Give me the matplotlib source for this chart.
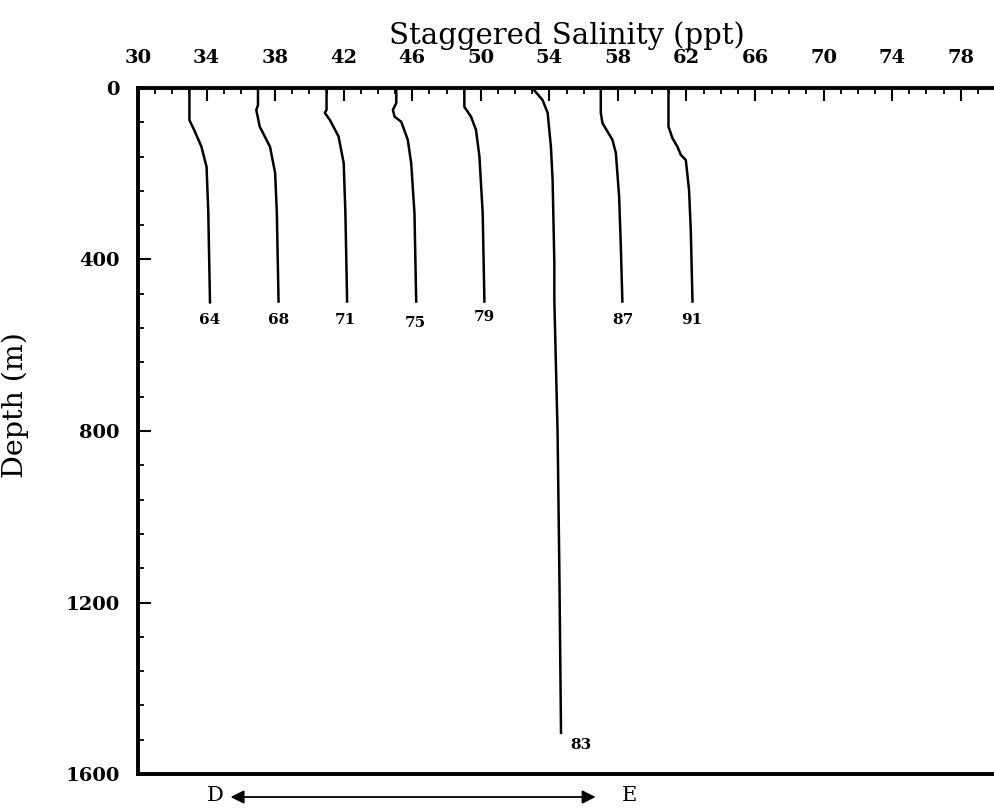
import matplotlib
matplotlib.use("Agg")
import matplotlib.pyplot as plt
from matplotlib.ticker import MultipleLocator
import matplotlib.transforms as mtransforms

# station profiles: staggered salinity (ppt) vs depth (m)
sal_64 = [33.0, 33.0, 33.3, 33.7, 34.0, 34.1, 34.2]
dep_64 = [0, 75, 100, 137, 184, 290, 500]

sal_68 = [37.0, 37.0, 36.9, 37.1, 37.7, 38.0, 38.1, 38.2]
dep_68 = [0, 40, 51, 90, 137, 198, 292, 498]

sal_71 = [41.0, 41.0, 40.9, 41.2, 41.7, 42.0, 42.1, 42.2]
dep_71 = [0, 51, 58, 75, 113, 175, 292, 498]

sal_75 = [45.07, 45.07, 44.87, 44.97, 45.36, 45.74, 45.94, 46.13, 46.23]
dep_75 = [0, 35, 51, 67, 79, 121, 176, 292, 498]

sal_79 = [49.04, 49.04, 49.43, 49.72, 49.92, 50.11, 50.21]
dep_79 = [0, 44, 67, 98, 160, 292, 498]

sal_83 = [53.0, 53.6, 53.9, 54.09, 54.19, 54.29, 54.29, 54.48, 54.58, 54.68]
dep_83 = [0, 28, 58, 137, 215, 408, 494, 805, 1117, 1504]

sal_87 = [57.0, 57.0, 57.1, 57.68, 57.88, 58.07, 58.17, 58.26]
dep_87 = [0, 58, 82, 121, 152, 253, 370, 498]

sal_91 = [60.95, 60.95, 61.18, 61.47, 61.67, 61.96, 62.15, 62.25, 62.35]
dep_91 = [0, 90, 117, 137, 156, 168, 238, 331, 498]

station_ids = ["64", "68", "71", "75", "79", "83", "87", "91"]
label_x = [34.2, 38.2, 42.1, 46.2, 50.2, 55.2, 58.3, 62.3]
label_y = [540, 540, 540, 548, 535, 1532, 540, 540]

xticks = [30, 34, 38, 42, 46, 50, 54, 58, 62, 66, 70, 74, 78]
yticks = [0, 400, 800, 1200, 1600]

profiles = [(sal_64, dep_64), (sal_68, dep_68), (sal_71, dep_71), (sal_75, dep_75),
            (sal_79, dep_79), (sal_83, dep_83), (sal_87, dep_87), (sal_91, dep_91)]

serif = "DejaVu Serif"

fig = plt.figure(figsize=(9.95, 8.10), dpi=100)
ax = fig.add_axes([0.1387, 0.0444, 0.8613, 0.847])

for (s, d) in profiles:
    ax.plot(s, d, color="black", lw=1.8)

for sid, lx, ly in zip(station_ids, label_x, label_y):
    ha = "left" if sid == "83" else "center"
    ax.text(lx, ly, sid, ha=ha, va="center", fontsize=11, fontweight="bold",
            family=serif)

ax.set_xlim(30, 80)
ax.set_ylim(1600, 0)

ax.xaxis.tick_top()
ax.xaxis.set_label_position("top")
ax.set_xticks(xticks)
ax.set_xticklabels([str(t) for t in xticks])
ax.xaxis.set_minor_locator(MultipleLocator(1))
ax.set_yticks(yticks)
ax.set_yticklabels([str(t) for t in yticks])
ax.yaxis.set_minor_locator(MultipleLocator(80))

ax.tick_params(axis="x", which="major", direction="in", length=9, width=1.5,
               pad=15, labelsize=14)
ax.tick_params(axis="x", which="minor", direction="in", length=4.5, width=1.3)
ax.tick_params(axis="y", which="major", direction="in", length=9, width=1.5,
               pad=13, labelsize=14)
ax.tick_params(axis="y", which="minor", direction="in", length=4, width=1.3)
for lab in ax.get_xticklabels() + ax.get_yticklabels():
    lab.set_family(serif)
    lab.set_fontweight("bold")

for side in ["top", "left", "bottom"]:
    ax.spines[side].set_linewidth(2.8)
ax.spines["right"].set_visible(False)

ax.set_xlabel("Staggered Salinity (ppt)", fontsize=21, family=serif, labelpad=4)
ax.set_ylabel("Depth (m)", fontsize=20.5, family=serif)
ax.yaxis.set_label_coords(-0.127, 0.538)

# D <-> E direction arrow under the axis
trans = mtransforms.blended_transform_factory(ax.transData, ax.transAxes)
ax.annotate("", xy=(35.4, -0.0335), xytext=(56.7, -0.0335), xycoords=trans,
            textcoords=trans,
            arrowprops=dict(arrowstyle="<|-|>", color="black", lw=1.3,
                            mutation_scale=20, shrinkA=0, shrinkB=0),
            annotation_clip=False)
ax.text(34.5, -0.032, "D", transform=trans, ha="center", va="center",
        fontsize=15, family=serif, clip_on=False)
ax.text(58.65, -0.032, "E", transform=trans, ha="center", va="center",
        fontsize=15, family=serif, clip_on=False)

fig.savefig("out.png", dpi=100)
